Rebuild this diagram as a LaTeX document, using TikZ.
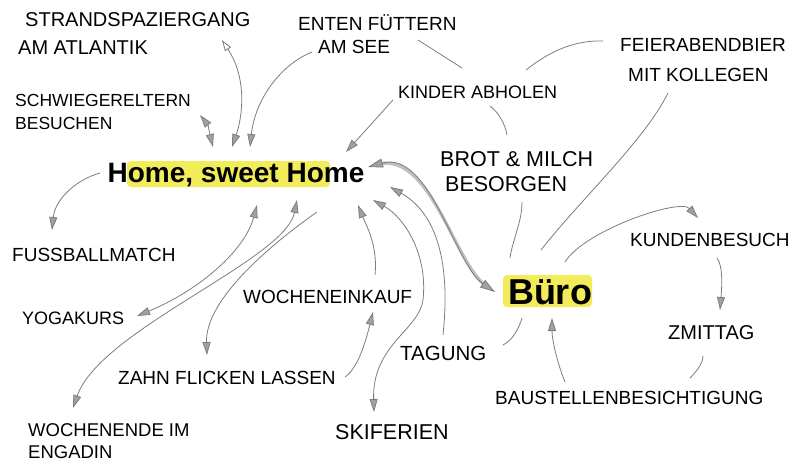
\documentclass[tikz,border=0pt]{standalone}
\usepackage{fontspec}
\setmainfont{Liberation Sans}
\usetikzlibrary{arrows.meta,calc,backgrounds}
\definecolor{hl}{RGB}{242,236,90}
\definecolor{ln}{RGB}{125,125,125}
\definecolor{hd}{RGB}{160,160,160}
\definecolor{thickln}{RGB}{190,190,190}
\newcommand{\fsz}[2]{\fontsize{#1}{#2}\selectfont}
\begin{document}
\begin{tikzpicture}[x=1pt,y=-1pt,
  lbl/.style={inner sep=0pt,anchor=west,align=left,font=\fsz{19}{24}},
  big/.style={inner sep=0pt,font=\bfseries\fsz{28}{32}},
  con/.style={draw=ln,line width=0.8pt},
  >={Triangle[length=13pt,width=8pt,fill=hd]},
  arr/.style={con,->},
  darr/.style={con,<->},
  ]
\path[use as bounding box] (0,0) rectangle (804,463);

% labels
\node[lbl,font=\fsz{20}{28}] (strand) at (18,34) {\hspace*{7pt}STRANDSPAZIERGANG\\AM ATLANTIK};
\node[lbl,font=\fsz{19}{23}] (enten) at (298,34) {ENTEN FÜTTERN\\\hspace*{20pt}AM SEE};
\node[lbl,font=\fsz{19}{30}] (feier) at (620,60) {FEIERABENDBIER\\\hspace*{8pt}MIT KOLLEGEN};
\node[lbl,font=\fsz{17.5}{23}] (schwieger) at (15,112) {SCHWIEGERELTERN\\BESUCHEN};
\node[lbl,font=\fsz{18}{22}] (kinder) at (398,92) {KINDER ABHOLEN};
\node[big] (home) at (236,175) {Home, sweet Home};
\node[lbl,font=\fsz{21.5}{25}] (brot) at (440,172) {BROT \& MILCH\\\hspace*{5pt}BESORGEN};
\node[lbl] (fussball) at (12,255) {FUSSBALLMATCH};
\node[lbl] (kunden) at (630,240) {KUNDENBESUCH};
\node[lbl] (wochen) at (243,297) {WOCHENEINKAUF};
\node[big,font=\bfseries\fsz{36}{40}] (buero) at (550,292) {Büro};
\node[lbl,font=\fsz{18}{22}] (yoga) at (22,318) {YOGAKURS};
\node[lbl,font=\fsz{20}{24}] (zmittag) at (668,333) {ZMITTAG};
\node[lbl,font=\fsz{20.5}{24}] (tagung) at (400,353) {TAGUNG};
\node[lbl] (zahn) at (118,378) {ZAHN FLICKEN LASSEN};
\node[lbl] (baust) at (495,398) {BAUSTELLENBESICHTIGUNG};
\node[lbl,font=\fsz{18.5}{22}] (engadin) at (28,441) {WOCHENENDE IM\\ENGADIN};
\node[lbl,font=\fsz{21.5}{24}] (ski) at (335,432) {SKIFERIEN};

% connectors around Home
\draw[con,{Triangle[open,length=11pt,width=7pt]}->] ($(strand.west)+(204,6)$) .. controls +(26,40) and +(10,-29) .. ($(home)+(-4,-28)$);
\draw[arr] ($(enten.west)+(14,18)$) .. controls +(-32,13) and +(5,-47) .. ($(home)+(14,-28)$);
\draw[darr] ($(schwieger.west)+(185,3)$) .. controls +(8,10) and +(-3,-12) .. ($(home)+(-23,-28)$);
\draw[arr] ($(kinder.west)+(-5,8)$) -- ($(home)+(110,-23)$);
\draw[con] ($(enten.west)+(120,6)$) -- ($(kinder.west)+(64,-24)$);
\draw[con] ($(feier.west)+(-17,-19)$) .. controls +(-33,-1) and +(19,-15) .. ($(kinder.west)+(128,-22)$);
\draw[con] ($(kinder.west)+(92,14)$) .. controls +(8,6) and +(-2,-12) .. ($(brot.west)+(67,-37)$);
\draw[con] ($(feier.west)+(48,33)$) .. controls +(-23,47) and +(39,-50) .. ($(buero)+(-9,-42)$);
\draw[con] ($(brot.west)+(82,30)$) .. controls +(0,20) and +(3,-20) .. ($(buero)+(-40,-34)$);
\draw[arr] ($(home)+(-136,-2)$) .. controls +(-25,7) and +(3,-30) .. ($(fussball.west)+(40,-25)$);
\draw[darr] ($(home)+(21,30)$) .. controls +(-12,45) and +(63,-26) .. ($(yoga.west)+(115,-2)$);
\draw[darr] ($(home)+(61,25)$) .. controls +(-12,60) and +(27,-78) .. ($(engadin.west)+(45,-33)$);
\draw[arr] ($(home)+(81,37)$) .. controls +(-47,33) and +(-2,-55) .. ($(zahn.west)+(89,-23)$);
\draw[arr] ($(zahn.west)+(227,-1)$) .. controls +(15,-10) and +(-5,20) .. ($(wochen.west)+(130,15)$);
\draw[arr] ($(wochen.west)+(132,-22)$) .. controls +(3,-30) and +(8,20) .. ($(home)+(122,30)$);
\draw[darr] ($(home)+(137,25)$) .. controls +(32,18) and +(5,-45) .. ($(home)+(187,125)$) .. controls +(-4,30) and +(-2,-67) .. ($(ski.west)+(39,-20)$);
\draw[arr] ($(tagung.west)+(43,-18)$) .. controls +(7,-65) and +(50,28) .. ($(home)+(154,12)$);

% Home <-> Buero (thick)
\draw[line width=3.2pt,draw=thickln,shorten <=10pt,shorten >=10pt] ($(home)+(132,-8)$) .. controls +(62,-17) and +(-40,-27) .. ($(buero)+(-55,0)$);
\draw[con,<->,>={Triangle[length=15pt,width=9pt,fill=hd]}] ($(home)+(132,-8)$) .. controls +(62,-17) and +(-40,-27) .. ($(buero)+(-55,0)$);

% around Buero
\draw[arr] ($(buero)+(15,-30)$) .. controls +(20,-32) and +(-18,-20) .. ($(kunden.west)+(68,-22)$);
\draw[arr] ($(kunden.west)+(87,18)$) .. controls +(6,8) and +(2,-25) .. ($(zmittag.west)+(52,-23)$);
\draw[con] ($(zmittag.west)+(35,23)$) .. controls +(0,8) and +(5,-5) .. ($(baust.west)+(195,-20)$);
\draw[arr] ($(baust.west)+(70,-16)$) .. controls +(-8,-20) and +(0,22) .. ($(buero)+(2,26)$);
\draw[con] ($(tagung.west)+(103,-8)$) .. controls +(10,-5) and +(-3,10) .. ($(buero)+(-28,26)$);

\begin{scope}[on background layer]
\fill[white] (0,0) rectangle (804,463);
\fill[hl,rounded corners=4pt] ($(home)+(-109,-14)$) rectangle ($(home)+(94,12)$);
\fill[hl,rounded corners=4pt] ($(buero)+(-47,-17)$) rectangle ($(buero)+(42,15)$);
\end{scope}
\end{tikzpicture}
\end{document}
